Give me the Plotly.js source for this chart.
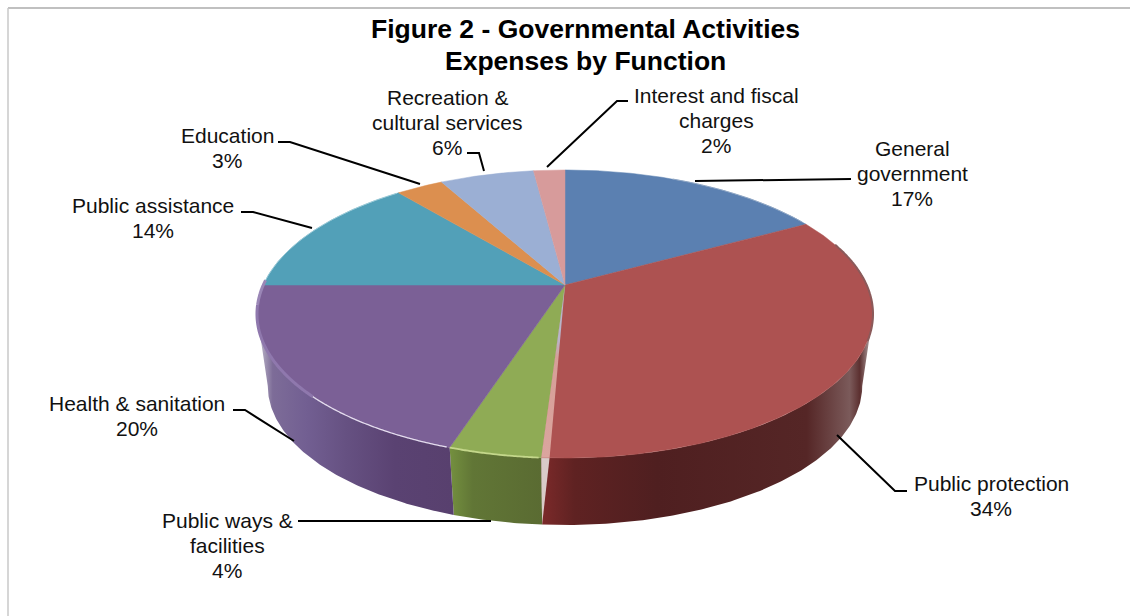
<!DOCTYPE html>
<html>
<head>
<meta charset="utf-8">
<script src="https://cdn.plot.ly/plotly-3.0.1.min.js"></script>
<style>html,body{margin:0;padding:0;background:#fff}#chart{width:1130px;height:616px}</style>
</head>
<body>
<div id="chart"></div>
<script>
// Governmental activities expenses, share of total by function (percent).
const titleLines = ['Figure 2 - Governmental Activities', 'Expenses by Function'];
const categories = ['General<br>government', 'Public protection', 'Public ways &<br>facilities',
  'Health & sanitation', 'Public assistance', 'Education', 'Recreation &<br>cultural services',
  'Interest and fiscal<br>charges'];
const shares = [17, 34, 4, 20, 14, 3, 6, 2];
const topColors = ['#5b80b1', '#ad5251', '#8fab55', '#7b6096', '#52a0b8', '#dc8f4f', '#9bafd4', '#d79b9b'];

// Thin pale seam laid over the trailing edge of the Public protection slice.
const seamShare = 0.35;

// Wall shading, left to right, for the slices that face the viewer.
const wallShades = {
  1: [[0, '#7c2a2a'], [0.1, '#5f2222'], [0.35, '#4f1f20'], [0.8, '#552626'], [0.93, '#7b5a5a'], [0.96, '#5c3030'], [1, '#c4bcbc']],
  2: [[0, '#74903f'], [0.25, '#617636'], [1, '#5a6b32']],
  3: [[0, '#c8c4d2'], [0.08, '#7d6c98'], [0.25, '#725f92'], [0.45, '#665182'], [0.7, '#5a4272'], [1, '#58406e']]
};

// Perspective projection of the flat disc: hub, tilt and scale of the top face,
// then the narrower outline of the bottom face.
const hub = {x: 565, y: 285}, tilt = 0.2014, scaleX = 301.7, scaleY = 138.2;
const topCentreY = 314, floorCentreY = 386, floorScale = 0.965;
const rad = Math.PI / 180;
const silhouette = [101.6, 258.4];

function rimPoint(deg) {
  const u = Math.sin(deg * rad), v = Math.cos(deg * rad), w = 1 + tilt * v;
  return {x: hub.x + scaleX * u / w, y: hub.y - scaleY * v / w};
}
function floorPoint(deg) {
  const p = rimPoint(deg);
  return {x: hub.x + floorScale * (p.x - hub.x), y: floorCentreY + floorScale * (p.y - topCentreY)};
}
function sweep(a, b) {
  const n = Math.max(2, Math.ceil(Math.abs(b - a) * 2)), out = [];
  for (let i = 0; i <= n; i++) out.push(a + (b - a) * i / n);
  return out;
}

const total = shares.reduce((s, v) => s + v, 0);
let running = 0;
const bounds = shares.map(v => {
  const from = running / total * 360;
  running += v;
  return [from, running / total * 360];
});
const traces = [];
const base = {type: 'scatter', mode: 'lines', hoverinfo: 'skip', showlegend: false};

function wallPolygon(a, b) {
  const degs = sweep(a, b);
  const upper = degs.map(rimPoint), lower = degs.map(floorPoint).reverse();
  const pts = upper.concat(lower);
  return {x: pts.map(p => p.x), y: pts.map(p => p.y)};
}

// Side walls of the visible front arc
bounds.forEach((b, i) => {
  if (!wallShades[i]) return;
  const a0 = Math.max(b[0], silhouette[0]), a1 = Math.min(b[1], silhouette[1]);
  const poly = wallPolygon(a0, a1);
  traces.push(Object.assign({}, base, poly, {
    fill: 'toself', line: {width: 0},
    fillgradient: {
      type: 'horizontal', colorscale: wallShades[i],
      start: Math.min(...poly.x), stop: Math.max(...poly.x)
    }
  }));
});

// Seam tapering down the wall
const seamEnd = bounds[1][1], seamStart = seamEnd - seamShare / total * 360;
const seamTop = sweep(seamStart, seamEnd).map(rimPoint), seamFoot = floorPoint(seamEnd);
traces.push(Object.assign({}, base, {
  x: [...seamTop.map(p => p.x), seamFoot.x, seamTop[0].x],
  y: [...seamTop.map(p => p.y), seamFoot.y, seamTop[0].y],
  fill: 'toself', fillcolor: '#d9cbc8', line: {width: 0}
}));

// Top face slices
bounds.forEach((b, i) => {
  const rim = sweep(b[0], b[1]).map(rimPoint);
  traces.push(Object.assign({}, base, {
    x: [hub.x, ...rim.map(p => p.x), hub.x],
    y: [hub.y, ...rim.map(p => p.y), hub.y],
    fill: 'toself', fillcolor: topColors[i],
    line: {width: 0.5, color: topColors[i]}
  }));
});
traces.push(Object.assign({}, base, {
  x: [hub.x, ...seamTop.map(p => p.x), hub.x],
  y: [hub.y, ...seamTop.map(p => p.y), hub.y],
  fill: 'toself', line: {width: 0},
  fillgradient: {
    type: 'vertical', start: hub.y, stop: seamTop[0].y,
    colorscale: [[0, '#b6b6cc'], [0.32, '#b9b4c8'], [0.42, '#d69f98'], [1, '#dba59e']]
  }
}));

// Bevel along the rim of the top face
const bevels = [
  {from: 198.5, to: 226, color: '#e4dcee', width: 1.3},
  {from: 226, to: 262, color: '#8f78ad', width: 3},
  {from: 262, to: 272, color: '#9a86b6', width: 3},
  {from: 184, to: 198, color: '#c4d78b', width: 1.8},
  {from: 72, to: 112, color: '#8b5a5a', width: 2},
  {from: 272, to: 320, color: '#9ccbd8', width: 1},
  {from: 25, to: 60, color: '#8fa6c4', width: 1}
];
bevels.forEach(b => {
  const pts = sweep(b.from, b.to).map(rimPoint);
  traces.push(Object.assign({}, base, {
    x: pts.map(p => p.x), y: pts.map(p => p.y),
    line: {color: b.color, width: b.width, shape: 'spline'}
  }));
});

// Label placement: centre of the block and the bend of its leader line
const labelCentres = [[912, 148], [991, 483], [227, 520], [137, 403], [153, 205], [227, 135], [447, 97], [716, 95]];
const leaders = [
  [[851, 179], [695, 181]],
  [[907, 491], [895, 491], [837, 435]],
  [[298, 521], [491, 521]],
  [[233, 410], [245, 410], [294, 441]],
  [[241, 212], [253, 212], [312, 228]],
  [[278, 142], [290, 142], [420, 184]],
  [[467, 153], [479, 153], [484, 171]],
  [[628, 101], [617, 101], [547, 167]]
];
const lineStep = 25;
const titleCentre = {x: 585.5, y: 29}, titleStep = 31.5;

const annotations = [];
const family = 'Liberation Sans, Arial, sans-serif';
titleLines.forEach((t, j) => annotations.push({
  text: '<b>' + t + '</b>', x: titleCentre.x, y: titleCentre.y + j * titleStep,
  xref: 'x', yref: 'y', xanchor: 'center', yanchor: 'middle', showarrow: false,
  font: {family, size: 26.5, color: '#000'}
}));
categories.forEach((name, i) => {
  const lines = name.split('<br>').concat(shares[i] + '%');
  lines.forEach((t, j) => annotations.push({
    text: t, x: labelCentres[i][0], y: labelCentres[i][1] + j * lineStep,
    xref: 'x', yref: 'y', xanchor: 'center', yanchor: 'middle', showarrow: false,
    font: {family, size: 21, color: '#111'}
  }));
});

const shapes = leaders.map(l => ({
  type: 'path', xref: 'x', yref: 'y', layer: 'above',
  path: l.map((p, i) => (i ? 'L' : 'M') + p[0] + ',' + p[1]).join(' '),
  line: {color: '#000', width: 2}
}));
shapes.push(
  {type: 'line', xref: 'x', yref: 'y', x0: 8, x1: 1130, y0: 8, y1: 8, line: {color: '#ababab', width: 1.5}},
  {type: 'line', xref: 'x', yref: 'y', x0: 8, x1: 8, y0: 8, y1: 616, line: {color: '#c8c8c8', width: 1.5}}
);

const layout = {
  width: 1130, height: 616,
  margin: {l: 0, r: 0, t: 0, b: 0},
  paper_bgcolor: '#fff', plot_bgcolor: '#fff',
  xaxis: {range: [0, 1130], visible: false, fixedrange: true},
  yaxis: {range: [616, 0], visible: false, fixedrange: true},
  shapes, annotations, showlegend: false
};
Plotly.newPlot('chart', traces, layout, {staticPlot: true, displayModeBar: false});
</script>
</body>
</html>
